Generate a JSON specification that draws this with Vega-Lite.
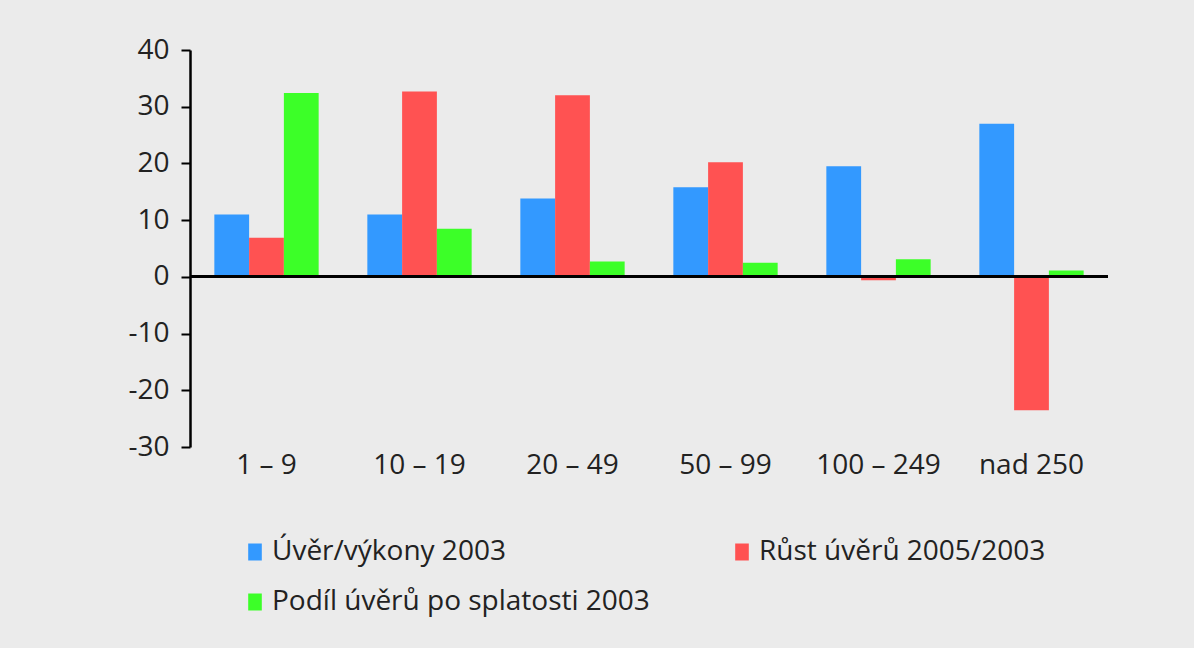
{
  "$schema": "https://vega.github.io/schema/vega-lite/v6.json",
  "width": 918,
  "height": 397,
  "autosize": {"type": "none"},
  "padding": {"left": 190, "top": 50, "right": 86, "bottom": 201},
  "background": "#ebebeb",
  "data": {
    "values": [
      {"group": "1 – 9", "series": "Úvěr/výkony 2003", "value": 11.0},
      {"group": "1 – 9", "series": "Růst úvěrů 2005/2003", "value": 6.9},
      {"group": "1 – 9", "series": "Podíl úvěrů po splatosti 2003", "value": 32.4},
      {"group": "10 – 19", "series": "Úvěr/výkony 2003", "value": 11.0},
      {"group": "10 – 19", "series": "Růst úvěrů 2005/2003", "value": 32.7},
      {"group": "10 – 19", "series": "Podíl úvěrů po splatosti 2003", "value": 8.5},
      {"group": "20 – 49", "series": "Úvěr/výkony 2003", "value": 13.8},
      {"group": "20 – 49", "series": "Růst úvěrů 2005/2003", "value": 32.0},
      {"group": "20 – 49", "series": "Podíl úvěrů po splatosti 2003", "value": 2.7},
      {"group": "50 – 99", "series": "Úvěr/výkony 2003", "value": 15.8},
      {"group": "50 – 99", "series": "Růst úvěrů 2005/2003", "value": 20.2},
      {"group": "50 – 99", "series": "Podíl úvěrů po splatosti 2003", "value": 2.5},
      {"group": "100 – 249", "series": "Úvěr/výkony 2003", "value": 19.5},
      {"group": "100 – 249", "series": "Růst úvěrů 2005/2003", "value": -0.6},
      {"group": "100 – 249", "series": "Podíl úvěrů po splatosti 2003", "value": 3.1},
      {"group": "nad 250", "series": "Úvěr/výkony 2003", "value": 27.0},
      {"group": "nad 250", "series": "Růst úvěrů 2005/2003", "value": -23.5},
      {"group": "nad 250", "series": "Podíl úvěrů po splatosti 2003", "value": 1.1}
    ]
  },
  "layer": [
    {
      "mark": {"type": "bar"},
      "encoding": {
        "x": {
          "field": "group",
          "type": "nominal",
          "sort": null,
          "scale": {"paddingInner": 0, "paddingOuter": 0},
          "axis": {
            "title": null,
            "labelAngle": 0,
            "domain": false,
            "ticks": false,
            "labelFontSize": 28,
            "labelColor": "#222222",
            "labelPadding": 4
          }
        },
        "xOffset": {
          "field": "series",
          "type": "nominal",
          "sort": ["Úvěr/výkony 2003", "Růst úvěrů 2005/2003", "Podíl úvěrů po splatosti 2003"],
          "scale": {"paddingInner": 0, "paddingOuter": 0.7}
        },
        "y": {
          "field": "value",
          "type": "quantitative",
          "scale": {"domain": [-30, 40], "nice": false},
          "axis": {
            "title": null,
            "values": [-30, -20, -10, 0, 10, 20, 30, 40],
            "labelExpr": "toString(datum.value)",
            "grid": false,
            "domainColor": "#000000",
            "domainWidth": 2.5,
            "tickColor": "#000000",
            "tickWidth": 2,
            "tickSize": 9,
            "labelFontSize": 28,
            "labelColor": "#222222",
            "labelPadding": 12
          }
        },
        "color": {
          "field": "series",
          "type": "nominal",
          "sort": ["Úvěr/výkony 2003", "Růst úvěrů 2005/2003", "Podíl úvěrů po splatosti 2003"],
          "scale": {
            "domain": ["Úvěr/výkony 2003", "Růst úvěrů 2005/2003", "Podíl úvěrů po splatosti 2003"],
            "range": ["#3399ff", "#ff5252", "#3cff28"]
          },
          "legend": {
            "title": null,
            "orient": "none",
            "direction": "horizontal",
            "legendX": 51,
            "legendY": 488,
            "columns": 2,
            "columnPadding": 78,
            "rowPadding": 22,
            "symbolType": "M-0.8,-1H0.8V1H-0.8Z",
            "symbolSize": 289,
            "symbolStrokeWidth": 0,
            "symbolOpacity": 1,
            "labelFontSize": 28,
            "labelColor": "#222222",
            "labelOffset": 3,
            "labelLimit": 0
          }
        }
      }
    },
    {
      "mark": {"type": "rule", "color": "#000000", "strokeWidth": 2.5},
      "encoding": {"y": {"datum": 0}}
    }
  ],
  "config": {"view": {"stroke": null}, "font": "Open Sans"}
}
